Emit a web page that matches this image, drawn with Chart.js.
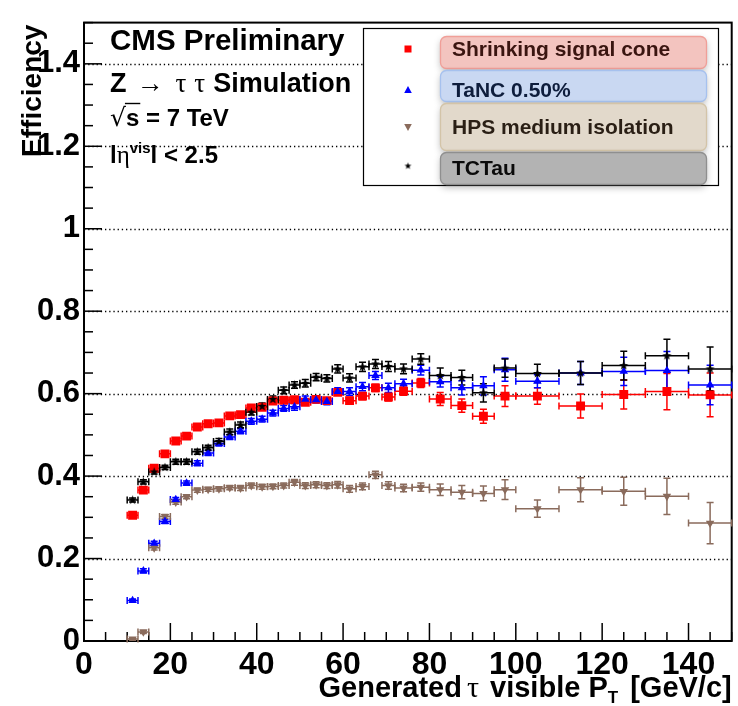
<!DOCTYPE html>
<html>
<head>
<meta charset="utf-8">
<script src="https://cdn.jsdelivr.net/npm/chart.js@4.4.0/dist/chart.umd.min.js"></script>
<style>
  html, body { margin: 0; padding: 0; background: #fff; }
  #wrap { width: 738px; height: 706px; position: relative; }
</style>
</head>
<body>
<div id="wrap"><canvas id="c" width="738" height="706"></canvas></div>
<script>
// Generated tau visible pT bins [GeV/c]
const BIN_EDGES = [10, 12.5, 15, 17.5, 20, 22.5, 25, 27.5, 30, 32.5, 35, 37.5, 40, 42.5, 45, 47.5,
  50, 52.5, 55, 57.5, 60, 63, 66, 69, 72, 76, 80, 85, 90, 95, 100, 110, 120, 130, 140, 150];

// Efficiencies per bin
const EFF_SHRINKING = [0.305, 0.366, 0.419, 0.454, 0.485, 0.497, 0.519, 0.527, 0.529, 0.546, 0.549, 0.565,
  0.567, 0.582, 0.584, 0.585, 0.579, 0.586, 0.583, 0.603, 0.583, 0.594, 0.614, 0.592, 0.606, 0.626,
  0.587, 0.571, 0.545, 0.594, 0.594, 0.570, 0.598, 0.605, 0.597];
const ERR_SHRINKING = [0.004, 0.004, 0.004, 0.004, 0.004, 0.004, 0.004, 0.005, 0.005, 0.005, 0.005, 0.005,
  0.005, 0.006, 0.006, 0.006, 0.006, 0.007, 0.007, 0.007, 0.008, 0.009, 0.009, 0.010, 0.010, 0.011,
  0.016, 0.016, 0.017, 0.025, 0.020, 0.029, 0.035, 0.044, 0.053];

const EFF_TANC = [0.098, 0.170, 0.237, 0.290, 0.343, 0.383, 0.431, 0.456, 0.479, 0.495, 0.509, 0.533,
  0.538, 0.553, 0.564, 0.568, 0.586, 0.585, 0.581, 0.605, 0.605, 0.617, 0.644, 0.614, 0.624, 0.657,
  0.629, 0.614, 0.619, 0.658, 0.630, 0.650, 0.654, 0.656, 0.621];
const ERR_TANC = [0.004, 0.005, 0.005, 0.005, 0.005, 0.005, 0.006, 0.006, 0.006, 0.006, 0.006, 0.007,
  0.007, 0.007, 0.007, 0.008, 0.008, 0.008, 0.008, 0.009, 0.009, 0.010, 0.010, 0.011, 0.011, 0.012,
  0.013, 0.017, 0.022, 0.028, 0.016, 0.028, 0.034, 0.046, 0.048];

const EFF_HPS = [0.005, 0.022, 0.226, 0.302, 0.337, 0.350, 0.366, 0.368, 0.369, 0.372, 0.371, 0.377,
  0.374, 0.375, 0.377, 0.385, 0.377, 0.379, 0.377, 0.379, 0.369, 0.375, 0.403, 0.377, 0.371, 0.373,
  0.367, 0.361, 0.358, 0.367, 0.321, 0.367, 0.363, 0.351, 0.286];
const ERR_HPS = [0.003, 0.004, 0.005, 0.005, 0.005, 0.005, 0.005, 0.005, 0.005, 0.005, 0.006, 0.006,
  0.006, 0.006, 0.006, 0.007, 0.007, 0.007, 0.007, 0.008, 0.008, 0.008, 0.009, 0.009, 0.009, 0.010,
  0.014, 0.016, 0.018, 0.024, 0.021, 0.029, 0.034, 0.044, 0.050];

const EFF_TCTAU = [0.342, 0.386, 0.410, 0.421, 0.435, 0.435, 0.459, 0.469, 0.484, 0.507, 0.524, 0.555,
  0.569, 0.586, 0.608, 0.621, 0.625, 0.640, 0.637, 0.660, 0.638, 0.665, 0.672, 0.666, 0.660, 0.684,
  0.644, 0.639, 0.602, 0.662, 0.649, 0.650, 0.668, 0.692, 0.660];
const ERR_TCTAU = [0.005, 0.005, 0.005, 0.005, 0.006, 0.006, 0.006, 0.006, 0.007, 0.007, 0.007, 0.007,
  0.008, 0.008, 0.008, 0.008, 0.009, 0.009, 0.009, 0.010, 0.010, 0.011, 0.011, 0.012, 0.012, 0.013,
  0.018, 0.018, 0.022, 0.022, 0.022, 0.028, 0.035, 0.040, 0.053];

const SERIES_LABELS = ['Shrinking signal cone', 'TaNC 0.50%', 'HPS medium isolation', 'TCTau'];

const X_TICKS = [0, 20, 40, 60, 80, 100, 120, 140];
const Y_TICKS = [0, 0.2, 0.4, 0.6, 0.8, 1, 1.2, 1.4];
const Y_TICK_LABELS = ['0', '0.2', '0.4', '0.6', '0.8', '1', '1.2', '1.4'];

const RED = '#ff0000', BLUE = '#0000ff', BROWN = '#8a6b5c', BLACK = '#000000';
const SANS = '"Liberation Sans", Arial, sans-serif';
const SERIF = '"Liberation Serif", "DejaVu Serif", serif';

// small filled five-point star used as marker
function makeStar(size, outer, inner, color) {
  const c = document.createElement('canvas');
  c.width = size; c.height = size;
  const g = c.getContext('2d');
  g.fillStyle = color;
  g.beginPath();
  for (let k = 0; k < 10; k++) {
    const r = k % 2 === 0 ? outer : inner;
    const a = -Math.PI / 2 + k * Math.PI / 5;
    const px = size / 2 + r * Math.cos(a), py = size / 2 + r * Math.sin(a);
    k === 0 ? g.moveTo(px, py) : g.lineTo(px, py);
  }
  g.closePath();
  g.fill();
  return c;
}
const STAR = makeStar(11, 4.8, 2.0, BLACK);
const STAR_SMALL = makeStar(9, 3.6, 1.5, BLACK);

function points(eff) {
  return eff.map((v, i) => ({ x: (BIN_EDGES[i] + BIN_EDGES[i + 1]) / 2, y: v }));
}

const datasets = [
  { label: SERIES_LABELS[0], data: points(EFF_SHRINKING), err: ERR_SHRINKING, order: 3,
    pointStyle: 'rect', pointRadius: 6.3, backgroundColor: RED, borderColor: RED, borderWidth: 0 },
  { label: SERIES_LABELS[1], data: points(EFF_TANC), err: ERR_TANC, order: 1,
    pointStyle: 'triangle', pointRadius: 4.9, backgroundColor: BLUE, borderColor: BLUE, borderWidth: 0 },
  { label: SERIES_LABELS[2], data: points(EFF_HPS), err: ERR_HPS, order: 2,
    pointStyle: 'triangle', rotation: 180, pointRadius: 4.9, backgroundColor: BROWN, borderColor: BROWN, borderWidth: 0 },
  { label: SERIES_LABELS[3], data: points(EFF_TCTAU), err: ERR_TCTAU, order: 0,
    pointStyle: STAR, pointRadius: 5, backgroundColor: BLACK, borderColor: BLACK, borderWidth: 0 }
];

// draw a run of differently-styled text pieces left to right
function drawRuns(ctx, x, y, runs) {
  ctx.textAlign = 'left';
  ctx.textBaseline = 'alphabetic';
  for (const r of runs) {
    ctx.font = r.font;
    x += (r.before || 0);
    ctx.fillText(r.t, x, y + (r.dy || 0));
    x += ctx.measureText(r.t).width + (r.after || 0);
  }
  return x;
}
function runsWidth(ctx, runs) {
  let w = 0;
  for (const r of runs) { ctx.font = r.font; w += ctx.measureText(r.t).width + (r.before || 0) + (r.after || 0); }
  return w;
}

const rootStyle = {
  id: 'rootStyle',
  beforeDatasetsDraw(chart) {
    const { ctx, chartArea: a, scales: { x, y } } = chart;
    ctx.save();
    // dotted horizontal grid
    ctx.strokeStyle = '#000';
    ctx.lineWidth = 1.3;
    ctx.setLineDash([1.3, 2.9]);
    for (const v of Y_TICKS) {
      if (v === 0) continue;
      const py = Math.round(y.getPixelForValue(v)) + 0.5;
      ctx.beginPath(); ctx.moveTo(a.left, py); ctx.lineTo(a.right, py); ctx.stroke();
    }
    ctx.setLineDash([]);

    // ticks inside the frame
    ctx.lineWidth = 1.5;
    for (let k = 0; k <= 30; k++) {
      const v = k * 0.05;
      const major = k % 4 === 0;
      const py = y.getPixelForValue(v);
      ctx.beginPath(); ctx.moveTo(a.left, py); ctx.lineTo(a.left + (major ? 18 : 9), py); ctx.stroke();
    }
    for (let v = 0; v <= 150; v += 5) {
      const major = v % 20 === 0;
      const px = x.getPixelForValue(v);
      ctx.beginPath(); ctx.moveTo(px, a.bottom); ctx.lineTo(px, a.bottom - (major ? 18 : 9)); ctx.stroke();
    }

    // frame
    ctx.lineWidth = 2;
    ctx.strokeRect(a.left, a.top, a.right - a.left, a.bottom - a.top);

    // error bars
    ctx.lineWidth = 1.5;
    const cap = 3.5;
    chart.data.datasets.forEach((ds) => {
      ctx.strokeStyle = ds.borderColor;
      ds.data.forEach((p, i) => {
        const px = x.getPixelForValue(p.x);
        const py = y.getPixelForValue(p.y);
        const xl = x.getPixelForValue(BIN_EDGES[i]);
        const xr = x.getPixelForValue(BIN_EDGES[i + 1]);
        const yt = y.getPixelForValue(p.y + ds.err[i]);
        const yb = y.getPixelForValue(p.y - ds.err[i]);
        ctx.beginPath();
        ctx.moveTo(xl, py); ctx.lineTo(xr, py);
        ctx.moveTo(xl, py - cap); ctx.lineTo(xl, py + cap);
        ctx.moveTo(xr, py - cap); ctx.lineTo(xr, py + cap);
        ctx.moveTo(px, yt); ctx.lineTo(px, yb);
        ctx.moveTo(px - cap, yt); ctx.lineTo(px + cap, yt);
        ctx.moveTo(px - cap, yb); ctx.lineTo(px + cap, yb);
        ctx.stroke();
      });
    });
    ctx.restore();
  },
  afterDraw(chart) {
    const { ctx, chartArea: a } = chart;
    ctx.save();
    ctx.fillStyle = '#000';

    // axis titles
    ctx.save();
    ctx.translate(41, a.top + 2);
    ctx.rotate(-Math.PI / 2);
    ctx.font = 'bold 28px ' + SANS;
    ctx.textAlign = 'right';
    ctx.textBaseline = 'alphabetic';
    ctx.fillText('Efficiency', 0, 0);
    ctx.restore();

    const bt = 'bold 29px ' + SANS;
    const xTitle = [
      { t: 'Generated', font: bt, after: 5 },
      { t: '\u03C4', font: '30px ' + SERIF, after: 3 },
      { t: ' visible P', font: bt },
      { t: 'T', font: 'bold 17px ' + SANS, dy: 6, after: 4 },
      { t: ' [GeV/c]', font: bt }
    ];
    drawRuns(ctx, a.right - runsWidth(ctx, xTitle), 697, xTitle);

    // annotations
    drawRuns(ctx, 110, 50, [{ t: 'CMS Preliminary', font: 'bold 29.5px ' + SANS }]);
    const b27 = 'bold 27px ' + SANS;
    const s27 = '27px ' + SERIF;
    drawRuns(ctx, 110, 92, [
      { t: 'Z', font: b27, after: 10 },
      { t: '\u2192', font: s27, after: 12 },
      { t: '\u03C4', font: s27, after: 8 },
      { t: '\u03C4', font: s27, after: 8 },
      { t: 'Simulation', font: b27 }
    ]);
    const b24 = 'bold 24px ' + SANS;
    const end = drawRuns(ctx, 110, 126, [
      { t: '\u221A', font: '25px "DejaVu Sans", sans-serif' }
    ]);
    ctx.font = b24;
    const sw = ctx.measureText('s').width;
    ctx.lineWidth = 1.4;
    ctx.strokeStyle = '#000';
    ctx.beginPath(); ctx.moveTo(end - 1, 103.5); ctx.lineTo(end + sw + 1, 103.5); ctx.stroke();
    drawRuns(ctx, end, 126, [{ t: 's = 7 TeV', font: b24 }]);
    drawRuns(ctx, 110, 163, [
      { t: 'l', font: b24 },
      { t: '\u03B7', font: '25px ' + SERIF },
      { t: 'vis', font: 'bold 15px ' + SANS, dy: -10 },
      { t: 'l < 2.5', font: b24 }
    ]);

    // legend
    ctx.fillStyle = '#fff';
    ctx.fillRect(363, 28, 356, 158);
    ctx.strokeStyle = '#000';
    ctx.lineWidth = 1.2;
    ctx.strokeRect(363.5, 28.5, 355, 157);

    const b21 = 'bold 21px ' + SANS;
    const rows = [
      { y: 36, h: 32, fill: '#f3c4bf', edge: '#f09f98', text: '#3a1510', base: 56 },
      { y: 70, h: 31, fill: '#c9d8f2', edge: '#a6c1ee', text: '#0e1d3c', base: 97 },
      { y: 103, h: 47, fill: '#e2d9cb', edge: '#d3c4a8', text: '#2a1f15', base: 134 },
      { y: 152, h: 32, fill: '#b3b3b3', edge: '#8f8f8f', text: '#0a0a0a', base: 175 }
    ];
    rows.forEach((r, i) => {
      ctx.save();
      ctx.shadowColor = 'rgba(0,0,0,0.28)';
      ctx.shadowBlur = 7;
      ctx.shadowOffsetY = 3;
      ctx.fillStyle = r.fill;
      ctx.beginPath();
      ctx.roundRect(440.5, r.y + 0.5, 266, r.h, 6);
      ctx.fill();
      ctx.restore();
      ctx.strokeStyle = r.edge;
      ctx.lineWidth = 1.3;
      ctx.beginPath();
      ctx.roundRect(440.5, r.y + 0.5, 266, r.h, 6);
      ctx.stroke();
      ctx.fillStyle = r.text;
      drawRuns(ctx, 452, r.base, [{ t: chart.data.datasets[i].label, font: b21 }]);
    });

    // legend markers
    const mx = 408;
    ctx.fillStyle = RED;
    ctx.fillRect(mx - 3.5, 49 - 3.5, 7, 7);
    ctx.fillStyle = BLUE;
    ctx.beginPath(); ctx.moveTo(mx, 86); ctx.lineTo(mx + 3.8, 93); ctx.lineTo(mx - 3.8, 93); ctx.closePath(); ctx.fill();
    ctx.fillStyle = BROWN;
    ctx.beginPath(); ctx.moveTo(mx, 131); ctx.lineTo(mx + 3.8, 124); ctx.lineTo(mx - 3.8, 124); ctx.closePath(); ctx.fill();
    ctx.drawImage(STAR_SMALL, mx - 4.5, 166 - 4.5);

    ctx.restore();
  }
};

new Chart(document.getElementById('c'), {
  type: 'scatter',
  data: { datasets },
  plugins: [rootStyle],
  options: {
    responsive: false,
    animation: false,
    devicePixelRatio: 1,
    layout: { padding: { top: 13, right: 6, left: 0, bottom: 0 } },
    plugins: { legend: { display: false }, tooltip: { enabled: false } },
    elements: { point: { hoverRadius: 0 } },
    scales: {
      x: {
        type: 'linear', min: 0, max: 150,
        afterBuildTicks: (s) => { s.ticks = X_TICKS.map(v => ({ value: v })); },
        afterFit: (s) => { s.height = 65; },
        grid: { display: false, drawTicks: false },
        border: { display: false },
        ticks: { color: '#000', font: { family: SANS, size: 32, weight: 'bold' },
          padding: 5, maxRotation: 0, autoSkip: false }
      },
      y: {
        type: 'linear', min: 0, max: 1.5,
        afterBuildTicks: (s) => { s.ticks = Y_TICKS.map(v => ({ value: v })); },
        afterFit: (s) => { s.width = 84; },
        grid: { display: false, drawTicks: false },
        border: { display: false },
        ticks: { color: '#000', font: { family: SANS, size: 31, weight: 'bold' },
          padding: 4, autoSkip: false,
          callback: (v, i) => Y_TICK_LABELS[i] }
      }
    }
  }
});
</script>
</body>
</html>
